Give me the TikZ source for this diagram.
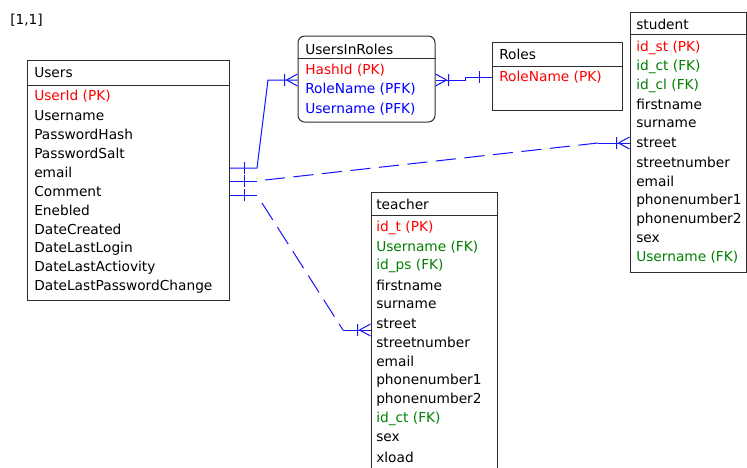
\documentclass[tikz,border=0pt]{standalone}
\usepackage{fontspec}
\setmainfont{DejaVu Sans}
\usetikzlibrary{fit}
\definecolor{linkblue}{RGB}{20,20,255}
\definecolor{pkred}{RGB}{255,0,0}
\definecolor{fkgreen}{RGB}{0,128,0}
\definecolor{pfkblue}{RGB}{0,0,255}
\definecolor{boxgray}{RGB}{45,45,45}
\newcommand{\erfont}{\fontsize{10.3pt}{12pt}\selectfont}
\tikzset{
  conn/.style={draw=linkblue, line width=0.75pt},
  dsh/.style={conn, dash pattern=on 15pt off 6.5pt},
  ent/.style={draw=boxgray, line width=0.75pt, inner sep=0pt},
  sepline/.style={draw=boxgray, line width=0.75pt},
  lbl/.style={anchor=west, inner sep=0pt, font=\erfont, text=black},
  pk/.style={lbl, text=pkred},
  fk/.style={lbl, text=fkgreen},
  pfk/.style={lbl, text=pfkblue},
  crowfoot/.pic={\draw[conn] (-11,0) -- (0,-6) (-11,0) -- (0,6) (-13,-6) -- (-13,6);},
  onebar/.pic={\draw[conn] (0,-6) -- (0,6);}
}
\begin{document}
\begin{tikzpicture}[x=0.75pt,y=-0.75pt]
\useasboundingbox (0,0) rectangle (747,468);

\node[lbl] (corner) at (10,20) {[1,1]};

% Users
\node[ent, fit={(27,60) (229,300)}] (users) {};
\draw[sepline] (users.west |- 0,85) -- (users.east |- 0,85);
\node[lbl] (uhead) at (34,73) {Users};
\node[pk] (u0) at (34,96) {UserId (PK)};
\foreach \t [count=\i] in {Username,PasswordHash,PasswordSalt,email,Comment,Enebled,DateCreated,DateLastLogin,DateLastActiovity,DateLastPasswordChange}
  \node[lbl] (u\i) at (34,{96+19.1*\i}) {\t};

% UsersInRoles
\node[ent, rounded corners=5pt, fit={(298,36) (435,122)}] (uir) {};
\draw[sepline] (uir.west |- 0,58) -- (uir.east |- 0,58);
\node[lbl] (uirhead) at (305,49) {UsersInRoles};
\node[pk] (uir1) at (305,70) {HashId (PK)};
\node[pfk] (uir2) at (305,89.5) {RoleName (PFK)};
\node[pfk] (uir3) at (305,109) {Username (PFK)};

% Roles
\node[ent, fit={(492,42) (622,110)}] (roles) {};
\draw[sepline] (roles.west |- 0,66) -- (roles.east |- 0,66);
\node[lbl] (rhead) at (499,54) {Roles};
\node[pk] (r1) at (499,77) {RoleName (PK)};

% student
\node[ent, fit={(630,12) (746.5,272)}] (student) {};
\draw[sepline] (student.west |- 0,34.5) -- (student.east |- 0,34.5);
\node[lbl] (shead) at (636,24) {student};
\node[pk] (s1) at (636,47.5) {id\_st (PK)};
\node[fk] (s2) at (636,66.5) {id\_ct (FK)};
\node[fk] (s3) at (636,85.5) {id\_cl (FK)};
\foreach \t [count=\i from 4] in {firstname,surname,street,streetnumber,email,phonenumber1,phonenumber2,sex}
  \node[lbl] (s\i) at (636,{47.5+19.1*(\i-1)}) {\t};
\node[fk] (s12) at (636,257.6) {Username (FK)};

% teacher
\node[ent, fit={(371,192) (497,480)}] (teacher) {};
\draw[sepline] (teacher.west |- 0,215) -- (teacher.east |- 0,215);
\node[lbl] (thead) at (376,204) {teacher};
\node[pk] (t1) at (376,228) {id\_t (PK)};
\node[fk] (t2) at (376,247.1) {Username (FK)};
\node[fk] (t3) at (376,266.2) {id\_ps (FK)};
\foreach \t [count=\i from 4] in {firstname,surname,street,streetnumber,email,phonenumber1,phonenumber2}
  \node[lbl] (t\i) at (376,{228+19.08*(\i-1)}) {\t};
\node[fk] (t11) at (376,418.8) {id\_ct (FK)};
\node[lbl] (t12) at (376,437.9) {sex};
\node[lbl] (t13) at (376,457) {xload};

% Users -> UsersInRoles
\draw[conn] (users.east |- 0,168) -- (257,168) -- (268,80) -- (uir.west |- 0,80);
\path (244,168) pic{onebar};
\path (uir.west |- 0,80) pic{crowfoot};

% UsersInRoles -> Roles
\draw[conn] (uir.east |- 0,80) -- (465,80) -- (465,77) -- (roles.west |- 0,77);
\path (uir.east |- 0,80) pic[rotate=180]{crowfoot};
\path (479,77) pic{onebar};

% Users -> student
\draw[conn] (users.east |- 0,181) -- (257,181);
\draw[dsh] (265,180) -- (598,143);
\draw[conn] (598,143) -- (student.west |- 0,143);
\path (244,181) pic{onebar};
\path (student.west |- 0,143) pic{crowfoot};

% Users -> teacher
\draw[conn] (users.east |- 0,195) -- (257,195);
\draw[dsh] (262,203) -- (343,330);
\draw[conn] (343,330) -- (teacher.west |- 0,330);
\path (244,195) pic{onebar};
\path (teacher.west |- 0,330) pic{crowfoot};
\end{tikzpicture}
\end{document}
